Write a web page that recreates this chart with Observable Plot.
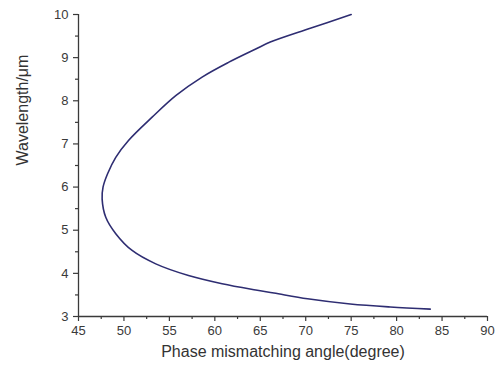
<!DOCTYPE html>
<html>
<head>
<meta charset="utf-8">
<script src="https://cdn.jsdelivr.net/npm/d3@7"></script>
<script src="https://cdn.jsdelivr.net/npm/@observablehq/plot@0.6"></script>
<style>
  body { margin: 0; background: #fff; }
  #chart svg { font-family: "Liberation Sans", Arial, sans-serif; }
</style>
</head>
<body>
<div id="chart"></div>
<script>
const angle = [75.0, 70.5, 66.1, 64.5, 61.5, 58.6, 55.7, 53.1, 50.5, 49.1, 48.2, 47.7, 47.6, 48.0, 49.1, 50.9, 53.5, 57.1, 60.8, 64.5, 66.5, 70.2, 74.9, 79.3, 83.7];
const wavelength = [10.0, 9.68, 9.36, 9.20, 8.89, 8.55, 8.12, 7.62, 7.08, 6.69, 6.31, 6.0, 5.72, 5.30, 4.92, 4.53, 4.22, 3.95, 3.76, 3.615, 3.545, 3.41, 3.29, 3.22, 3.17];
const xTicks = [45, 50, 55, 60, 65, 70, 75, 80, 85, 90];
const xMinor = [47.5, 52.5, 57.5, 62.5, 67.5, 72.5, 77.5, 82.5, 87.5];
const yTicks = [3, 4, 5, 6, 7, 8, 9, 10];
const yMinor = [3.5, 4.5, 5.5, 6.5, 7.5, 8.5, 9.5];

const data = angle.map((a, i) => ({angle: a, wavelength: wavelength[i]}));
const axisColor = "#3a3a3a";

const plot = Plot.plot({
  width: 497,
  height: 370,
  marginLeft: 78,
  marginRight: 10,
  marginTop: 14,
  marginBottom: 54,
  style: {fontFamily: "Liberation Sans, Arial, sans-serif", color: axisColor, background: "#fff"},
  x: {domain: [45, 90]},
  y: {domain: [3, 10]},
  marks: [
    Plot.axisX({ticks: xMinor, tickSize: 3, text: null, label: null, stroke: axisColor, strokeWidth: 1.2}),
    Plot.axisX({ticks: xTicks, tickSize: 5, tickPadding: 4, fontSize: 13, tickFormat: d => String(d), stroke: axisColor, strokeWidth: 1.2, label: null}),
    Plot.axisY({ticks: yMinor, tickSize: 3, text: null, label: null, stroke: axisColor, strokeWidth: 1.2}),
    Plot.axisY({ticks: yTicks, tickSize: 5, tickPadding: 5, fontSize: 13, tickFormat: d => String(d), stroke: axisColor, strokeWidth: 1.2, label: null}),
    Plot.text(["Phase mismatching angle(degree)"], {frameAnchor: "bottom", dy: 40, fontSize: 16, fill: "#333"}),
    Plot.text(["Wavelength/μm"], {frameAnchor: "left", dx: -56, rotate: -90, fontSize: 16, fill: "#333"}),
    Plot.ruleX([45], {stroke: axisColor, strokeWidth: 1.3}),
    Plot.ruleY([3], {stroke: axisColor, strokeWidth: 1.3}),
    Plot.line(data, {x: "angle", y: "wavelength", curve: "catmull-rom", stroke: "#2e2d72", strokeWidth: 1.6})
  ]
});
document.getElementById("chart").appendChild(plot);
</script>
</body>
</html>
